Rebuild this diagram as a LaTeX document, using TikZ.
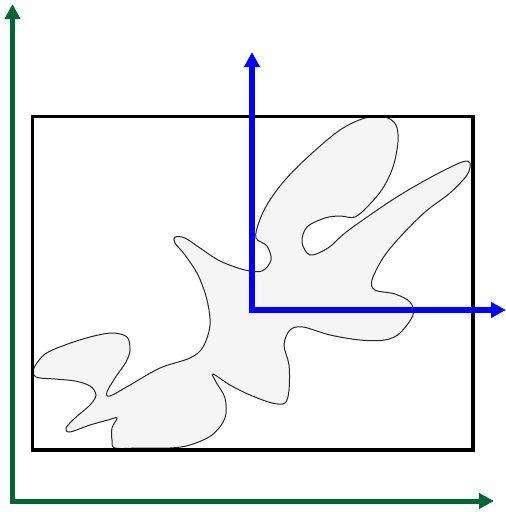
\documentclass[tikz,border=0pt]{standalone}
\usetikzlibrary{arrows.meta}
\definecolor{axgreen}{RGB}{0,102,51}
\definecolor{blobfill}{RGB}{245,245,245}
\begin{document}
\begin{tikzpicture}[x=1pt,y=-1pt,
  axis/.style={line width=#1, {Triangle[length=15pt,width=15pt]}-{Triangle[length=15pt,width=15pt]}},
  frame/.style={draw=black,line width=3.3pt},
  blob/.style={draw=black!85,fill=blobfill,line width=1pt}]
\useasboundingbox (0,0) rectangle (506,512);
% blob
\draw[blob] plot[smooth cycle, tension=0.55] coordinates {
(175,237) (185,238) (200,248) (220,261) (245,270) (262,271) (271,260) (267,246) (256,238)
(259,222) (268,203) (285,180) (310,155) (340,130) (365,118) (385,117) (396,125) (398,142)
(393,167) (383,188) (370,204) (355,217) (340,216) (325,218) (307,227) (302,242) (310,255)
(328,248) (345,233) (370,215) (400,195) (435,175) (462,162) (470,163) (467,175) (450,193)
(425,212) (400,237) (383,258) (372,280) (375,290) (395,294) (410,302) (413,315) (400,333)
(385,340) (360,340) (330,335) (303,327) (290,330) (284,345) (289,365) (289,390) (285,403)
(272,403) (250,395) (230,385) (213,374) (216,382) (225,398) (225,418) (212,435) (190,445)
(170,448) (140,448) (115,448) (112,440) (112,428) (117,418) (108,420) (90,425) (70,432)
(66,428) (75,418) (90,405) (96,395) (90,386) (75,381) (55,379) (36,377) (34,368) (45,354)
(65,345) (90,337) (112,333) (127,337) (130,350) (126,362) (115,378) (107,392) (110,396)
(130,385) (160,368) (190,358) (203,347) (210,325) (207,300) (198,275) (185,255) (175,243)};
% frame
\coordinate (f1) at (32.5,116.5);
\coordinate (f2) at (473,450);
\draw[frame] (f1) rectangle (f2);
% green axes
\coordinate (go) at (12.5,501);
\coordinate (gy) at (12.5,4);
\coordinate (gx) at (494,501);
\draw[axis=5pt,axgreen] (gy) -- (go) -- (gx);
% blue axes
\coordinate (bo) at (252,310);
\coordinate (by) at (252,52);
\coordinate (bx) at (506,310);
\draw[axis=6pt,blue] (by) -- (bo) -- (bx);
\end{tikzpicture}
\end{document}
